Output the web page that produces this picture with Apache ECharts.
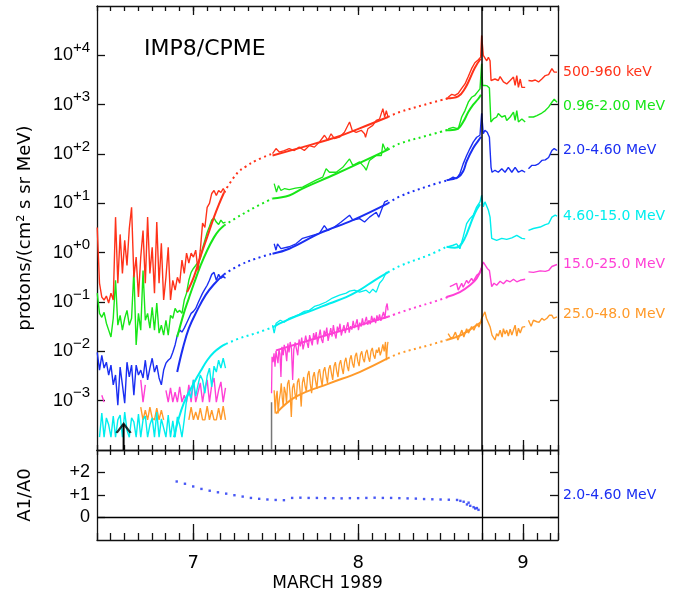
<!DOCTYPE html>
<html>
<head>
<meta charset="utf-8">
<script src="https://cdn.jsdelivr.net/npm/echarts@6/dist/echarts.min.js"></script>
<style>
html,body{margin:0;padding:0;background:#fff;}
#chart{width:678px;height:593px;}
</style>
</head>
<body>
<div id="chart"></div>
<script>
// IMP8/CPME proton intensities, March 1989.
// Time is the decimal day of March; intensities are stored as log10 of protons/(cm2 s sr MeV).

const xMin = 77 / 12, xMax = 9.212;   // axis starts at 10:00 UT on 6 March
const minorStep = 1 / 12;              // minor ticks every 2 hours
const shockDay = 8.75;
const majorDays = [7, 8, 9];
const decades = [-3, -2, -1, 0, 1, 2, 3, 4];
const ratioTicks = [0, 1, 2];

// Pre-event 20-minute averages starting at day 6.418
const preStart = 6.418, preStep = 1 / 72;

const redPre = [0.51, -0.62, -0.90, -0.96, -0.88, -1.02, -0.82, -0.96, 0.72, -0.62,
  0.37, -0.42, 0.25, -0.26, 0.49, 0.92, -0.50, -0.09, -0.90, -0.09,
  0.45, -0.62, 0.72, -0.42, 0.11, -0.82, 0.62, -0.62, 0.19, -0.96,
  -0.50, 0.11, -0.96, -0.56, -0.76, -0.50, -0.62, -0.15, -0.42, -0.01,
  -0.21, -0.01, -0.09, 0.05, -0.36, 0.05, 0.60, 0.51, 0.92, 1.00,
  1.20, 1.26, 1.16, 1.26, 1.22, 1.30, 1.22];
const greenPre = [-0.82, -1.23, -1.31, -1.21, -1.43, -1.57, -1.71, -1.33, -0.56, -1.47,
  -1.27, -1.57, -1.33, -1.17, -1.47, -1.33, -0.36, -1.87, -1.23, -1.57,
  -0.36, -1.37, -1.23, -1.53, -1.11, -1.57, -1.02, -1.63, -1.47, -1.67,
  -1.37, -1.67, -1.27, -1.33, -1.13, -1.21, -1.17, -1.23, -0.96, -0.82,
  -0.56, -0.40, -0.32, -0.26, -0.19, -0.11, 0.09, 0.25, 0.41, 0.53,
  0.66, 0.70, 0.62, 0.57, 0.66, 0.60, 0.62];
const bluePre = [-2.02, -2.38, -2.08, -2.34, -2.22, -2.48, -2.28, -2.68, -2.48, -3.09,
  -2.32, -2.68, -3.05, -2.22, -2.52, -2.28, -2.89, -2.28, -2.48, -2.38,
  -2.54, -2.18, -2.58, -2.34, -2.14, -2.42, -2.28, -2.54, -2.68, -2.38,
  -2.24, -2.18, -2.14, -2.02, -1.87, -1.67, -1.57, -1.61, -1.53, -1.43,
  -1.33, -1.23, -1.19, -1.13, -1.02, -0.92, -0.82, -0.74, -0.66, -0.56,
  -0.44, -0.40, -0.56, -0.44, -0.52, -0.48, -0.52];
const cyanPre = [null,
  -3.74, -3.25, -3.74, -3.35, -3.49, -3.74, -3.31, -3.74, -3.39, -3.29,
  -3.74, -3.23, -3.60, -3.74, -3.35, -3.43, -3.74, -3.27, -3.74, -3.39,
  -3.31, -3.74, -3.49, -3.35, -3.74, -3.23, -3.74, -3.37, -3.55, -3.74,
  -3.29, -3.74, -3.41, -3.74, -3.33, -3.49, -3.74, -3.39,
  -2.99, -2.83, -2.95, -2.58, -2.91, -2.68, -2.48, -2.58, -2.85, -2.50,
  -2.34, -2.72, -2.30, -2.42, -2.18, -2.34, -2.14, -2.34];
const pinkPre = [null, null, -2.89, -3.03,
  null, null, null, null, null, null, null, null, null, null, null, null, null, null, null,
  -2.58, -3.03, -2.68,
  null, null, null, null, null, null, null, null,
  -2.79, -3.03, -2.74, -3.03, -2.83, -3.03, -2.72, -3.03, -2.89, -3.03,
  -2.68, -3.03, -2.58, -3.03, -2.83, -2.64, -3.03, -2.74, -2.58, -3.03,
  -2.68, -2.54, -3.03, -2.79, -2.62, -3.03, -2.74];
const orangePre = [null, null, null, null, null, null, null, null, null, null,
  null, null, null, null, null, null, null, null, null,
  -3.13, -3.39, -3.19, -3.39, -3.13, -3.35, -3.39, -3.15, -3.39, -3.19, -3.39,
  null, null, null, null, null, null, null, null, null, null,
  -3.39, -3.13, -3.39, -3.23, -3.39, -3.15, -3.39, -3.39, -3.11, -3.39,
  -3.19, -3.39, -3.39, -3.15, -3.39, -3.11, -3.39];

// Fitted onset profiles (solid) and their extrapolations across data gaps (dotted)
const redFit1 = [[6.963,-0.80],[7.004,-0.49],[7.045,-0.07],[7.085,0.32],[7.126,0.72],[7.156,0.98],[7.187,1.22]];
const redDot1 = [[7.187,1.22],[7.266,1.61],[7.321,1.75],[7.382,1.87],[7.481,2.01]];
const redMid = [[7.481,2.01],[7.502,2.11],[7.522,2.04],[7.552,2.07],[7.582,2.11],[7.613,2.07],[7.643,2.14],[7.674,2.07],[7.704,2.17],[7.735,2.14],[7.765,2.24],[7.796,2.38],[7.816,2.28],[7.836,2.41],[7.856,2.31],[7.887,2.34],[7.917,2.44],[7.948,2.65],[7.964,2.48],[7.988,2.44],[8.019,2.48],[8.039,2.41],[8.045,2.34],[8.059,2.51],[8.089,2.58],[8.110,2.68],[8.130,2.71],[8.150,2.92],[8.161,2.75],[8.171,2.88],[8.181,2.75]];
const redFit2 = [[7.481,1.97],[7.663,2.14],[7.867,2.34],[8.009,2.52],[8.181,2.75]];
const redDot2 = [[8.181,2.75],[8.252,2.85],[8.404,3.00],[8.546,3.13]];
const redRise = [[8.546,3.15],[8.568,3.21],[8.587,3.19],[8.607,3.23],[8.628,3.33],[8.648,3.42],[8.668,3.57],[8.688,3.73],[8.708,3.85],[8.729,3.91],[8.743,3.96],[8.749,4.40]];
const redFit3 = [[8.536,3.13],[8.607,3.17],[8.648,3.33],[8.678,3.53],[8.708,3.75],[8.743,3.93]];
const redPost = [[8.749,4.40],[8.759,4.00],[8.780,3.89],[8.790,3.96],[8.800,3.89],[8.806,3.49],[8.830,3.52],[8.850,3.49],[8.861,3.57],[8.881,3.46],[8.901,3.42],[8.922,3.49],[8.942,3.56],[8.952,3.39],[8.962,3.59],[8.972,3.35],[8.983,3.52],[8.993,3.35],[9.013,3.35],[9.023,null],[9.033,3.49],[9.054,3.48],[9.074,3.50],[9.094,3.46],[9.114,3.52],[9.135,3.59],[9.155,3.61],[9.175,3.73],[9.189,3.66],[9.206,3.66]];

const greenFit1 = [[6.903,-1.71],[6.943,-1.23],[6.974,-0.92],[7.004,-0.63],[7.045,-0.26],[7.085,0.05],[7.126,0.31],[7.156,0.45],[7.187,0.55]];
const greenDot1 = [[7.187,0.55],[7.258,0.70],[7.380,0.93],[7.481,1.10]];
const greenMid = [[7.491,1.40],[7.505,1.23],[7.517,1.36],[7.532,1.26],[7.555,1.30],[7.582,1.28],[7.620,1.31],[7.663,1.33],[7.704,1.40],[7.745,1.47],[7.785,1.53],[7.806,1.70],[7.826,1.63],[7.867,1.63],[7.907,1.73],[7.948,1.90],[7.968,1.77],[8.009,1.84],[8.039,1.73],[8.049,1.67],[8.069,1.87],[8.110,1.97],[8.141,1.97],[8.150,2.21],[8.167,2.07],[8.181,2.14]];
const greenFit2 = [[7.481,1.10],[7.582,1.16],[7.663,1.30],[7.867,1.60],[8.181,2.09]];
const greenDot2 = [[8.181,2.09],[8.252,2.21],[8.404,2.36],[8.546,2.49]];
const greenRise = [[8.546,2.51],[8.576,2.54],[8.607,2.51],[8.628,2.75],[8.648,2.88],[8.668,3.05],[8.688,3.15],[8.708,3.19],[8.722,3.25],[8.739,3.32],[8.749,3.83]];
const greenFit3 = [[8.536,2.48],[8.597,2.50],[8.637,2.65],[8.668,2.85],[8.698,3.00],[8.729,3.12],[8.745,3.20]];
const greenPost = [[8.749,3.83],[8.755,3.39],[8.769,3.39],[8.783,3.38],[8.796,3.34],[8.805,2.65],[8.820,2.71],[8.840,2.75],[8.850,2.82],[8.871,2.75],[8.891,2.78],[8.901,2.68],[8.922,2.75],[8.942,2.85],[8.952,2.68],[8.962,2.88],[8.972,2.65],[8.993,2.71],[9.013,2.65],[9.023,null],[9.033,2.75],[9.063,2.75],[9.084,2.78],[9.114,2.83],[9.135,2.88],[9.155,2.95],[9.175,3.05],[9.189,3.11],[9.206,3.05]];

const blueFit1 = [[6.903,-2.42],[6.937,-1.94],[6.974,-1.53],[7.024,-1.17],[7.075,-0.86],[7.126,-0.64],[7.187,-0.44]];
const blueDot1 = [[7.187,-0.44],[7.278,-0.26],[7.380,-0.12],[7.481,-0.02]];
const blueMid = [[7.491,0.18],[7.502,0.05],[7.511,0.18],[7.532,0.08],[7.582,0.12],[7.623,0.18],[7.663,0.29],[7.724,0.35],[7.765,0.39],[7.795,0.55],[7.816,0.45],[7.856,0.52],[7.897,0.62],[7.948,0.76],[7.968,0.66],[8.009,0.69],[8.039,0.62],[8.049,0.59],[8.069,0.72],[8.110,0.82],[8.125,0.72],[8.141,0.86],[8.161,1.03],[8.181,1.06]];
const blueFit2 = [[7.481,-0.02],[7.582,0.08],[7.765,0.39],[7.968,0.66],[8.181,1.00]];
const blueDot2 = [[8.181,1.00],[8.252,1.14],[8.435,1.36],[8.546,1.47]];
const blueRise = [[8.546,1.47],[8.576,1.53],[8.597,1.50],[8.617,1.60],[8.637,1.80],[8.658,1.97],[8.678,2.11],[8.698,2.24],[8.719,2.34],[8.739,2.38],[8.749,2.82]];
const blueFit3 = [[8.536,1.47],[8.607,1.53],[8.637,1.65],[8.658,1.85],[8.698,2.12],[8.729,2.27],[8.745,2.35]];
const bluePost = [[8.749,2.82],[8.759,2.41],[8.769,2.48],[8.783,2.44],[8.796,2.34],[8.806,1.73],[8.812,1.63],[8.830,1.67],[8.850,1.63],[8.871,1.70],[8.891,1.63],[8.911,1.73],[8.932,1.63],[8.952,1.73],[8.972,1.63],[8.993,1.67],[9.013,1.63],[9.023,null],[9.033,1.70],[9.054,1.77],[9.074,1.77],[9.094,1.80],[9.114,1.87],[9.135,1.88],[9.155,1.93],[9.175,2.07],[9.189,2.11],[9.206,2.07]];

const cyanFit1 = [[6.883,-3.74],[6.913,-3.35],[6.943,-3.05],[6.974,-2.83],[7.004,-2.64],[7.045,-2.40],[7.085,-2.18],[7.126,-2.02],[7.167,-1.91],[7.199,-1.85]];
const cyanDot1 = [[7.199,-1.85],[7.278,-1.74],[7.400,-1.61],[7.491,-1.50]];
const cyanMid = [[7.481,-1.47],[7.491,-1.63],[7.503,-1.43],[7.528,-1.37],[7.552,-1.41],[7.582,-1.33],[7.613,-1.29],[7.643,-1.25],[7.674,-1.19],[7.704,-1.17],[7.735,-1.09],[7.765,-1.06],[7.806,-1.00],[7.844,-0.92],[7.887,-0.86],[7.928,-0.82],[7.948,-0.78],[7.978,-0.76],[8.009,-0.80],[8.049,-0.76],[8.069,-0.82],[8.089,-0.74],[8.110,-0.80],[8.130,-0.62],[8.150,-0.54],[8.171,-0.40],[8.181,-0.40]];
const cyanFit2 = [[7.491,-1.50],[7.522,-1.44],[7.623,-1.29],[7.722,-1.17],[7.826,-1.03],[7.928,-0.90],[8.009,-0.76],[8.100,-0.56],[8.181,-0.40]];
const cyanDot2 = [[8.181,-0.40],[8.252,-0.27],[8.435,-0.04],[8.536,0.12]];
const cyanRise = [[8.546,0.12],[8.576,0.15],[8.597,0.18],[8.617,0.08],[8.637,0.32],[8.658,0.59],[8.678,0.69],[8.698,0.76],[8.719,0.93],[8.739,1.03],[8.749,1.16]];
const cyanFit3 = [[8.536,0.12],[8.587,0.10],[8.617,0.14],[8.648,0.30],[8.678,0.55],[8.708,0.80],[8.739,0.98]];
const cyanPost = [[8.749,1.16],[8.759,0.93],[8.769,1.03],[8.790,0.86],[8.800,0.72],[8.810,0.29],[8.840,0.25],[8.871,0.29],[8.901,0.27],[8.932,0.30],[8.962,0.35],[8.993,0.29],[9.013,0.28],[9.023,null],[9.033,0.45],[9.063,0.49],[9.104,0.52],[9.135,0.57],[9.155,0.59],[9.175,0.72],[9.195,0.76],[9.206,0.74]];

const pinkMid = [[7.475,-2.85],[7.478,-2.11],[7.484,-2.22],[7.490,-2.04],[7.496,-2.31],[7.502,-1.99],[7.508,-2.12],[7.514,-2.24],[7.520,-1.96],[7.526,-2.05],[7.532,-2.52],[7.538,-1.91],[7.546,-2.08],[7.552,-1.87],[7.560,-1.99],[7.567,-2.20],[7.574,-1.84],[7.581,-2.02],[7.588,-1.81],[7.596,-1.95],[7.603,-2.58],[7.610,-1.96],[7.618,-1.82],[7.626,-1.95],[7.634,-2.08],[7.642,-1.76],[7.650,-1.90],[7.658,-1.72],[7.666,-1.96],[7.674,-1.84],[7.682,-1.68],[7.690,-1.82],[7.698,-1.93],[7.706,-1.67],[7.714,-1.78],[7.722,-1.88],[7.730,-1.63],[7.738,-1.76],[7.746,-1.61],[7.754,-1.86],[7.762,-1.70],[7.770,-1.56],[7.778,-1.76],[7.786,-1.83],[7.794,-1.58],[7.802,-1.68],[7.810,-1.52],[7.818,-1.79],[7.826,-1.66],[7.834,-1.53],[7.842,-1.70],[7.850,-1.47],[7.858,-1.64],[7.866,-1.74],[7.874,-1.50],[7.882,-1.60],[7.890,-1.44],[7.898,-1.68],[7.906,-1.57],[7.914,-1.47],[7.922,-1.63],[7.930,-1.51],[7.938,-1.41],[7.946,-1.62],[7.954,-1.49],[7.962,-1.56],[7.970,-1.38],[7.978,-1.53],[7.986,-1.45],[7.994,-1.35],[8.002,-1.57],[8.010,-1.42],[8.018,-1.50],[8.026,-1.33],[8.034,-1.47],[8.042,-1.40],[8.050,-1.30],[8.058,-1.46],[8.066,-1.37],[8.074,-1.45],[8.082,-1.28],[8.090,-1.40],[8.098,-1.32],[8.106,-1.43],[8.114,-1.27],[8.122,-1.37],[8.130,-1.25],[8.138,-1.38],[8.146,-1.29],[8.154,-1.20],[8.162,-1.34],[8.170,-1.10],[8.176,-1.03],[8.181,-1.17]];
const pinkFit2 = [[7.502,-1.98],[7.841,-1.64],[8.181,-1.30]];
const pinkDot2 = [[8.181,-1.30],[8.300,-1.16],[8.435,-1.02],[8.546,-0.90]];
const pinkFit3 = [[8.536,-0.90],[8.617,-0.80],[8.678,-0.66],[8.719,-0.52],[8.749,-0.32]];
const pinkLate = [[8.556,-0.69],[8.576,-0.66],[8.597,-0.62],[8.607,-0.76],[8.628,-0.62],[8.637,-0.70],[8.658,-0.56],[8.668,-0.62],[8.688,-0.52],[8.698,-0.58],[8.719,-0.46],[8.739,-0.40],[8.749,-0.29],[8.759,-0.19],[8.769,-0.19],[8.783,-0.32],[8.796,-0.36],[8.810,-0.69],[8.824,-0.62],[8.840,-0.66],[8.861,-0.58],[8.881,-0.63],[8.901,-0.56],[8.922,-0.59],[8.942,-0.54],[8.962,-0.59],[8.983,-0.56],[9.013,-0.54],[9.023,null],[9.033,-0.39],[9.063,-0.40],[9.104,-0.37],[9.135,-0.38],[9.155,-0.36],[9.175,-0.28],[9.185,-0.26],[9.206,-0.24]];

const orangeMid = [[7.491,-2.79],[7.497,-3.26],[7.503,-2.92],[7.509,-2.80],[7.515,-3.26],[7.522,-2.98],[7.528,-2.85],[7.534,-2.65],[7.540,-2.94],[7.546,-3.12],[7.552,-2.72],[7.560,-2.84],[7.566,-3.05],[7.572,-2.66],[7.580,-2.58],[7.588,-2.88],[7.595,-3.33],[7.602,-2.74],[7.610,-2.65],[7.617,-2.86],[7.625,-2.98],[7.632,-2.62],[7.640,-2.55],[7.648,-2.80],[7.655,-3.12],[7.662,-2.64],[7.670,-2.52],[7.678,-2.70],[7.686,-2.82],[7.694,-2.48],[7.702,-2.40],[7.710,-2.66],[7.718,-2.85],[7.726,-2.52],[7.734,-2.42],[7.742,-2.60],[7.750,-2.76],[7.758,-2.44],[7.766,-2.36],[7.774,-2.55],[7.782,-2.70],[7.790,-2.40],[7.798,-2.32],[7.806,-2.50],[7.814,-2.64],[7.822,-2.36],[7.830,-2.28],[7.838,-2.44],[7.846,-2.58],[7.854,-2.30],[7.862,-2.22],[7.870,-2.40],[7.878,-2.52],[7.886,-2.26],[7.894,-2.18],[7.902,-2.34],[7.910,-2.46],[7.918,-2.22],[7.926,-2.13],[7.934,-2.30],[7.942,-2.40],[7.950,-2.16],[7.958,-2.08],[7.966,-2.25],[7.974,-2.33],[7.982,-2.10],[7.990,-2.03],[7.998,-2.20],[8.006,-2.30],[8.014,-2.07],[8.022,-2.00],[8.030,-2.15],[8.038,-2.22],[8.046,-2.03],[8.054,-1.97],[8.062,-2.12],[8.070,-2.21],[8.078,-2.00],[8.086,-1.93],[8.094,-2.08],[8.102,-2.15],[8.110,-1.97],[8.118,-2.03],[8.126,-1.92],[8.134,-2.08],[8.142,-1.99],[8.150,-1.86],[8.158,-2.00],[8.166,-1.81],[8.172,-2.18],[8.178,-1.88],[8.181,-1.81]];
const orangeFit2 = [[7.502,-3.26],[7.623,-2.92],[7.826,-2.65],[8.009,-2.42],[8.181,-2.14]];
const orangeDot2 = [[8.181,-2.14],[8.252,-2.04],[8.435,-1.87],[8.536,-1.77]];
const orangeFit3 = [[8.536,-1.77],[8.617,-1.68],[8.678,-1.56],[8.749,-1.40]];
const orangeLate = [[8.546,-1.64],[8.562,-1.73],[8.576,-1.71],[8.590,-1.61],[8.605,-1.77],[8.617,-1.67],[8.629,-1.57],[8.641,-1.71],[8.658,-1.54],[8.669,-1.63],[8.688,-1.50],[8.702,-1.57],[8.719,-1.44],[8.733,-1.51],[8.749,-1.33],[8.759,-1.27],[8.769,-1.20],[8.778,-1.33],[8.790,-1.37],[8.800,-1.50],[8.812,-1.67],[8.830,-1.77],[8.840,-1.64],[8.850,-1.69],[8.861,-1.57],[8.873,-1.71],[8.881,-1.54],[8.891,-1.65],[8.901,-1.57],[8.911,-1.69],[8.922,-1.55],[8.932,-1.67],[8.942,-1.57],[8.952,-1.47],[8.962,-1.69],[8.972,-1.53],[8.983,-1.63],[8.995,-1.51],[9.013,-1.50],[9.023,null],[9.033,-1.37],[9.049,-1.49],[9.063,-1.37],[9.084,-1.40],[9.098,-1.41],[9.114,-1.33],[9.128,-1.37],[9.145,-1.33],[9.159,-1.27],[9.175,-1.27],[9.185,-1.33],[9.206,-1.30]];

// Anisotropy ratio A1/A0 for 2.0-4.60 MeV
const ratioDays = [6.90,6.95,7.00,7.05,7.10,7.15,7.20,7.25,7.30,7.35,7.40,7.45,7.50,7.55,7.60,7.65,7.70,7.75,7.80,7.85,7.90,7.95,8.00,8.05,8.10,8.15,8.20,8.25,8.30,8.35,8.40,8.45,8.50,8.55,8.60,8.62,8.64,8.66,8.67,8.68,8.70,8.71,8.72,8.73];
const ratioVals = [1.60,1.50,1.38,1.27,1.19,1.12,1.06,0.99,0.93,0.87,0.83,0.80,0.78,0.77,0.87,0.88,0.87,0.87,0.86,0.86,0.85,0.86,0.86,0.87,0.88,0.87,0.87,0.86,0.85,0.84,0.82,0.81,0.80,0.79,0.78,0.74,0.70,0.58,0.66,0.52,0.46,0.40,0.42,0.34];

// Markers: data-gap boundary and event arrow
const gapMarker = [[7.475,-4],[7.475,-3.03]];
const arrowDay = 6.578, arrowTip = -3.47;

const C = {red:'#ff3219', green:'#17e617', blue:'#1a2ef2', cyan:'#00eeee', pink:'#ff40d6', orange:'#ff9a2a'};
const FONT = 'DejaVu Sans';
const LFONT = 'Liberation Sans';

const channels = [
  {name:'500-960 keV', color:C.red, pre:redPre, fit1:redFit1, dot1:redDot1, mid:redMid, fit2:redFit2, dot2:redDot2, rise:redRise, fit3:redFit3, post:redPost, off:[0,0]},
  {name:'0.96-2.00 MeV', color:C.green, pre:greenPre, fit1:greenFit1, dot1:greenDot1, mid:greenMid, fit2:greenFit2, dot2:greenDot2, rise:greenRise, fit3:greenFit3, post:greenPost, off:[0,4]},
  {name:'2.0-4.60 MeV', color:C.blue, pre:bluePre, fit1:blueFit1, dot1:blueDot1, mid:blueMid, fit2:blueFit2, dot2:blueDot2, rise:blueRise, fit3:blueFit3, post:bluePost, off:[0,0]},
  {name:'4.60-15.0 MeV', color:C.cyan, pre:cyanPre, fit1:cyanFit1, dot1:cyanDot1, mid:cyanMid, fit2:cyanFit2, dot2:cyanDot2, rise:cyanRise, fit3:cyanFit3, post:cyanPost, off:[0,0]},
  {name:'15.0-25.0 MeV', color:C.pink, pre:pinkPre, mid:pinkMid, fit2:pinkFit2, dot2:pinkDot2, fit3:pinkFit3, post:pinkLate, off:[0,0]},
  {name:'25.0-48.0 MeV', color:C.orange, pre:orangePre, mid:orangeMid, fit2:orangeFit2, dot2:orangeDot2, fit3:orangeFit3, post:orangeLate, off:[0,-2]}
];

const onCadence = vals => vals.map((v, i) => [preStart + i * preStep, v]);

const series = [];
function addLine(data, color, style, extra) {
  series.push(Object.assign({
    type:'line', data, xAxisIndex:0, yAxisIndex:0, symbol:'none', silent:true,
    animation:false, connectNulls:false, z:3,
    lineStyle:Object.assign({color, width:1.4}, style || {})
  }, extra || {}));
}
const FIT = {width:2};
const DOT = {width:2, type:[2, 3.5]};

channels.slice().reverse().forEach(ch => {
  addLine(onCadence(ch.pre), ch.color);
  if (ch.fit1) addLine(ch.fit1, ch.color, FIT, {smooth:0.4});
  if (ch.dot1) addLine(ch.dot1, ch.color, DOT, {smooth:0.4});
  addLine(ch.mid, ch.color, {width:1.3});
  addLine(ch.fit2, ch.color, FIT, {smooth:0.4});
  addLine(ch.dot2, ch.color, DOT, {smooth:0.4});
  if (ch.rise) addLine(ch.rise, ch.color);
  addLine(ch.fit3, ch.color, FIT, {smooth:0.4});
  addLine(ch.post, ch.color, null, {
    endLabel:{show:true, formatter:ch.name, color:ch.color, fontSize:14, fontFamily:FONT, distance:6, offset:ch.off}
  });
});

// shock line across the upper panel
series[series.length - 1].markLine = {
  silent:true, symbol:'none', animation:false, label:{show:false},
  lineStyle:{color:'#000', width:1.5, type:'solid'}, data:[{xAxis:shockDay}]
};

addLine(gapMarker, '#777', {width:1.5});
addLine([[arrowDay, -4], [arrowDay, arrowTip]], '#000', {width:2});
series.push({
  type:'scatter', xAxisIndex:0, yAxisIndex:0, silent:true, animation:false, z:5,
  data:[[arrowDay, arrowTip]],
  symbol:'path://M0 10 L6 0 L12 10', symbolSize:[14, 9], symbolOffset:[0, 4.5],
  itemStyle:{color:'none', borderColor:'#000', borderWidth:2}
});

// lower panel: anisotropy ratio
series.push({
  type:'scatter', xAxisIndex:4, yAxisIndex:2, silent:true, animation:false,
  data:ratioDays.map((d, i) => [d, ratioVals[i]]),
  symbol:'rect', symbolSize:2.4, itemStyle:{color:C.blue},
  markLine:{
    silent:true, symbol:'none', animation:false, label:{show:false},
    lineStyle:{color:'#000', width:1.3, type:'solid'},
    data:[{xAxis:shockDay}, {yAxis:0}]
  }
});

const AX = {color:'#111', width:1.3};
function xMajor(grid, pos, len, extra) {
  return Object.assign({
    type:'value', gridIndex:grid, position:pos, min:xMin, max:xMax,
    axisLine:{show:true, onZero:false, lineStyle:AX},
    axisTick:{show:true, inside:true, length:len, customValues:majorDays, lineStyle:AX},
    axisLabel:{show:false}, splitLine:{show:false}
  }, extra || {});
}
function xMinor(grid, pos, len) {
  return {
    type:'value', gridIndex:grid, position:pos, min:xMin, max:xMax, interval:minorStep,
    axisLine:{show:false, onZero:false},
    axisTick:{show:true, inside:true, length:len, lineStyle:AX},
    axisLabel:{show:false}, splitLine:{show:false}
  };
}
function yAx(grid, pos, min, max, ticks, extra) {
  return Object.assign({
    type:'value', gridIndex:grid, position:pos, min, max, interval:1,
    axisLine:{show:true, onZero:false, lineStyle:AX},
    axisTick:{show:true, inside:true, length:8, customValues:ticks, lineStyle:AX},
    axisLabel:{show:false}, splitLine:{show:false}
  }, extra || {});
}

const option = {
  backgroundColor:'#fff',
  animation:false,
  title:{
    text:'IMP8/CPME', left:139, top:33,
    textStyle:{fontSize:22, fontWeight:'normal', color:'#000', fontFamily:FONT}
  },
  grid:[
    {left:97, top:6, width:461, height:444},
    {left:97, top:450, width:461, height:90}
  ],
  xAxis:[
    xMajor(0, 'bottom', 10),
    xMinor(0, 'bottom', 5),
    xMajor(0, 'top', 9),
    xMinor(0, 'top', 5),
    xMajor(1, 'bottom', 16, {
      axisLabel:{show:true, customValues:majorDays, formatter:v => String(v), fontSize:18, color:'#000', fontFamily:FONT, margin:14},
      name:'MARCH 1989', nameLocation:'middle', nameGap:35,
      nameTextStyle:{fontSize:17, color:'#000', fontFamily:FONT}
    }),
    xMinor(1, 'bottom', 7),
    xMajor(1, 'top', 10),
    xMinor(1, 'top', 5)
  ],
  yAxis:[
    yAx(0, 'left', -4, 5, decades, {
      axisLabel:{
        show:true, customValues:decades, margin:7,
        formatter:v => '{b|10}{s|' + (v < 0 ? '\u2212' : '+') + Math.abs(v) + '}',
        rich:{
          b:{fontSize:18, lineHeight:30, color:'#000', fontFamily:LFONT},
          s:{fontSize:15, lineHeight:15, verticalAlign:'top', color:'#000', fontFamily:LFONT}
        }
      },
      name:'protons/(cm\u00b2 s sr MeV)', nameLocation:'middle', nameGap:63, nameRotate:90,
      nameTextStyle:{fontSize:18, color:'#000', fontFamily:FONT}
    }),
    yAx(0, 'right', -4, 5, decades),
    yAx(1, 'left', -1, 3, ratioTicks, {
      axisLabel:{
        show:true, customValues:ratioTicks, margin:7,
        formatter:v => (v > 0 ? '+' + v : String(v)),
        fontSize:18, color:'#000', fontFamily:LFONT
      },
      name:'A1/A0', nameLocation:'middle', nameGap:63, nameRotate:90,
      nameTextStyle:{fontSize:18, color:'#000', fontFamily:FONT}
    }),
    yAx(1, 'right', -1, 3, ratioTicks, {
      name:'2.0-4.60 MeV', nameLocation:'middle', nameGap:5, nameRotate:0,
      nameTextStyle:{fontSize:14, color:C.blue, fontFamily:FONT, padding:[0, 0, 20, 0]}
    })
  ],
  series
};

const chart = echarts.init(document.getElementById('chart'), null, {renderer:'canvas'});
chart.setOption(option);
</script>
</body>
</html>
